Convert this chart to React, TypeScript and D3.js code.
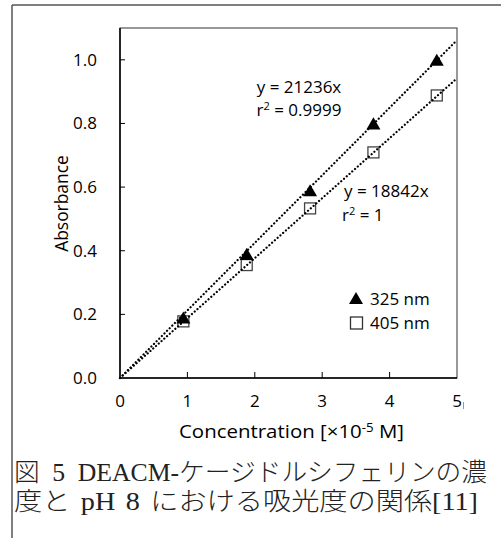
import React from "react";
import * as d3 from "d3";

const concentrations = [0.94, 1.88, 2.82, 3.76, 4.7];
const abs325 = [0.19, 0.39, 0.59, 0.8, 1.0];
const abs405 = [0.178, 0.355, 0.533, 0.709, 0.888];
const slope325 = 0.21236;
const slope405 = 0.18842;
const xTicks = [0, 1, 2, 3, 4, 5];
const yTicks = [0, 0.2, 0.4, 0.6, 0.8, 1.0];
const legendLabels = ["325 nm", "405 nm"];
const captionLines = [
  "図 5 DEACM-ケージドルシフェリンの濃",
  "度と pH 8 における吸光度の関係[11]",
];

const W = 501;
const H = 538;
const FONT = "'Open Sans', 'Noto Sans', sans-serif";
const SERIF = "'Liberation Serif', 'Noto Sans CJK JP', serif";

export default function App() {
  const left = 120;
  const right = 457;
  const top = 28;
  const bottom = 378;
  const x = d3.scaleLinear().domain([0, 5]).range([left, right]);
  const y = d3.scaleLinear().domain([0, 1.1]).range([bottom, top]);

  const trend = (slope: number) => {
    const xEnd = Math.min(5, 1.1 / slope);
    return d3.line<[number, number]>()
      .x((d) => x(d[0]))
      .y((d) => y(d[1]))([
      [0, 0],
      [xEnd, slope * xEnd],
    ]) as string;
  };

  const tri = d3.symbol().type(d3.symbolTriangle).size(85)() as string;

  return (
    <div style={{ position: "absolute", left: 0, top: 0 }}>
      <svg width={W} height={H} style={{ display: "block", background: "#fff" }}>
        <defs>
          <clipPath id="imgclip">
            <rect x={0} y={0} width={463} height={H} />
          </clipPath>
        </defs>
        {/* outer frame */}
        <line x1={12} y1={5} x2={W} y2={5} stroke="#555" strokeWidth={1.5} />
        <line x1={12} y1={5} x2={12} y2={H} stroke="#555" strokeWidth={1.5} />

        {/* plot border */}
        <rect x={left} y={top} width={right - left} height={bottom - top} fill="none" stroke="#333" strokeWidth={1} />
        <line x1={left} y1={top} x2={left} y2={bottom} stroke="#000" strokeWidth={1.5} />
        <line x1={left} y1={bottom} x2={right} y2={bottom} stroke="#000" strokeWidth={1.5} />

        {/* y ticks */}
        {yTicks.map((t) => (
          <g key={"y" + t}>
            {t > 0 && <line x1={left} x2={left + 5} y1={y(t)} y2={y(t)} stroke="#000" strokeWidth={1} />}
            <text x={97} y={y(t)} dy="0.35em" textAnchor="end" fontFamily={FONT} fontSize={17}>
              {t.toFixed(1)}
            </text>
          </g>
        ))}
        {/* x ticks */}
        <g clipPath="url(#imgclip)">
          {xTicks.map((t) => (
            <g key={"x" + t}>
              {t > 0 && t < 5 && <line x1={x(t)} x2={x(t)} y1={bottom} y2={bottom - 6} stroke="#000" strokeWidth={1} />}
              <text x={x(t)} y={401} dy="0.35em" textAnchor="middle" fontFamily={FONT} fontSize={17}>
                {t}
              </text>
            </g>
          ))}
        </g>
        <line x1={463.5} x2={463.5} y1={402} y2={409} stroke="#999" strokeWidth={1} />

        {/* axis titles */}
        <text transform={`translate(62,${(157 + 250) / 2}) rotate(-90)`} textAnchor="middle" dy="0.35em" fontFamily={FONT} fontSize={17.4}>
          Absorbance
        </text>
        <text x={179} y={432} dy="0.35em" fontFamily={FONT} fontSize={18.5} textLength={225} lengthAdjust="spacingAndGlyphs">
          Concentration [×10<tspan dy="-6" fontSize={12}>-5</tspan><tspan dy="6"> M]</tspan>
        </text>

        {/* markers */}
        {concentrations.map((c, i) => (
          <rect key={"s" + i} x={x(c) - 5.5} y={y(abs405[i]) - 5.5} width={11} height={11} fill="#fff" stroke="#444" strokeWidth={1.3} />
        ))}
        {concentrations.map((c, i) => (
          <path key={"t" + i} d={tri} transform={`translate(${x(c)},${y(abs325[i]) + 2})`} fill="#000" />
        ))}

        {/* trend lines */}
        {[slope325, slope405].map((s) => (
          <path key={s} d={trend(s)} fill="none" stroke="#000" strokeWidth={2.2} strokeDasharray="0.1 3.6" strokeLinecap="round" />
        ))}

        {/* equations */}
        <text x={299} y={87} dy="0.35em" textAnchor="middle" fontFamily={FONT} fontSize={17}>
          y = 21236x
        </text>
        <text x={299} y={110} dy="0.35em" textAnchor="middle" fontFamily={FONT} fontSize={17}>
          r<tspan dy="-6" fontSize={11}>2</tspan><tspan dy="6"> = 0.9999</tspan>
        </text>
        <text x={344} y={191} dy="0.35em" fontFamily={FONT} fontSize={17}>
          y = 18842x
        </text>
        <text x={342} y={215} dy="0.35em" fontFamily={FONT} fontSize={17}>
          r<tspan dy="-6" fontSize={11}>2</tspan><tspan dy="6"> = 1</tspan>
        </text>

        {/* legend */}
        <path d={tri} transform="translate(356,300)" fill="#000" />
        <text x={370} y={299} dy="0.35em" fontFamily={FONT} fontSize={17}>{legendLabels[0]}</text>
        <rect x={350.5} y={317} width={12} height={12} fill="#fff" stroke="#333" strokeWidth={1.3} />
        <text x={370} y={323} dy="0.35em" fontFamily={FONT} fontSize={17}>{legendLabels[1]}</text>

        {/* caption */}
        <text x={14} y={481} fontFamily={SERIF} fontSize={25} fontWeight={300} fill="#222" wordSpacing={6} textLength={473} lengthAdjust="spacingAndGlyphs">
          {captionLines[0]}
        </text>
        <text x={14} y={510} fontFamily={SERIF} fontSize={25} fontWeight={300} fill="#222" wordSpacing={3} textLength={464} lengthAdjust="spacingAndGlyphs">
          {captionLines[1]}
        </text>
      </svg>
    </div>
  );
}
